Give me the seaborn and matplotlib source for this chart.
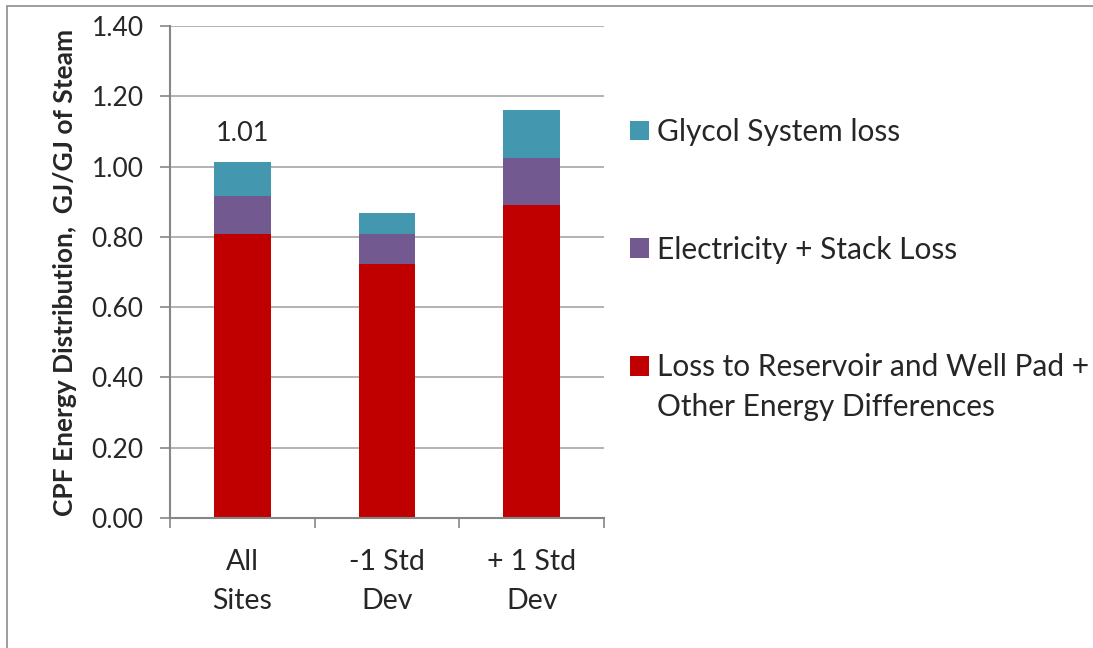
import matplotlib
matplotlib.use('Agg')
import matplotlib.pyplot as plt
from matplotlib.patches import Patch, Rectangle
from matplotlib.ticker import FixedLocator, NullFormatter
import seaborn as sns
import pandas as pd
import numpy as np

# Datos (GJ/GJ of Steam)
categories = ['All\nSites', '-1 Std\nDev', '+ 1 Std\nDev']
reservoir_loss = [0.807, 0.724, 0.890]
stack_loss = [0.108, 0.083, 0.133]
glycol_loss = [0.099, 0.060, 0.137]
top_labels = ['1.01', '', '']

series_names = ['Glycol System loss', 'Electricity + Stack Loss',
                'Loss to Reservoir and Well Pad +']
series_extra_line = 'Other Energy Differences'
colors = ['#4398AF', '#72598F', '#C00000']

df = pd.DataFrame({'category': categories,
                   'reservoir': reservoir_loss,
                   'stack': stack_loss,
                   'glycol': glycol_loss})
df['cum_stack'] = df['reservoir'] + df['stack']
df['cum_glycol'] = df['cum_stack'] + df['glycol']

sns.set_style('white')
plt.rcParams['font.family'] = ['Lato', 'DejaVu Sans']

W, H = 1093, 648
fig = plt.figure(figsize=(W / 100, H / 100), dpi=100)
ax = fig.add_axes([170 / W, 1 - 518 / H, 434 / W, 492 / H])

# Barras apiladas: se dibuja el acumulado y encima los tramos inferiores
for col, c in zip(['cum_glycol', 'cum_stack', 'reservoir'], colors):
    sns.barplot(data=df, x='category', y=col, order=categories, color=c,
                width=0.39, saturation=1, edgecolor='none', ax=ax)

ax.bar_label(ax.containers[0], labels=top_labels, padding=11, fontsize=19.5)

ax.set_ylim(0, 1.4)
ax.set_xlim(-0.5, 2.5)
ax.set_yticks(np.arange(0, 1.41, 0.2))
ax.set_yticklabels([f'{v:.2f}' for v in np.arange(0, 1.41, 0.2)])
ax.yaxis.grid(True, color='#A6A6A6', linewidth=1.2)
ax.set_axisbelow(True)

# ticks del eje x en los limites de categoria, etiquetas al centro
ax.xaxis.set_major_locator(FixedLocator([-0.5, 0.5, 1.5, 2.5]))
ax.xaxis.set_major_formatter(NullFormatter())
ax.xaxis.set_minor_locator(FixedLocator([0, 1, 2]))
ax.set_xticklabels(categories, minor=True, fontsize=20.5, linespacing=1.65)
ax.tick_params(axis='x', which='major', direction='out', length=7, width=1.2, color='#868686', bottom=True)
ax.tick_params(axis='x', which='minor', length=0, pad=22)
ax.tick_params(axis='y', direction='out', length=7, width=1.2, color='#868686', left=True,
               labelsize=19, pad=12)

for s in ['top', 'right']:
    ax.spines[s].set_visible(False)
for s in ['left', 'bottom']:
    ax.spines[s].set_color('#868686')
    ax.spines[s].set_linewidth(1.5)

ax.set_xlabel('')
ax.set_ylabel('CPF Energy Distribution,  GJ/GJ of Steam', fontsize=19, fontweight='bold')
ax.yaxis.set_label_coords(-0.214, 0.5)

leg_fs = 21.5
handles = [Patch(facecolor=c, edgecolor='none') for c in colors]
leg = fig.legend(handles, series_names, loc='upper left', bbox_to_anchor=(630 / W, 1 - 118 / H),
                 frameon=False, fontsize=leg_fs, handlelength=0.64, handleheight=0.64,
                 handletextpad=0.25, labelspacing=3.0, borderpad=0, borderaxespad=0)

# segunda linea de la ultima entrada, alineada con su texto
fig.canvas.draw()
bb = leg.get_texts()[2].get_window_extent(fig.canvas.get_renderer())
fig.text(bb.x0 / W, (bb.y0 - 40) / H, series_extra_line, fontsize=leg_fs, va='bottom', ha='left')

fig.add_artist(Rectangle((7 / W, -0.05), 1.1, 1.05 - 6 / H, transform=fig.transFigure,
                         fill=False, edgecolor='#8C8C8C', linewidth=1.2))

fig.savefig('out.png', dpi=100)
